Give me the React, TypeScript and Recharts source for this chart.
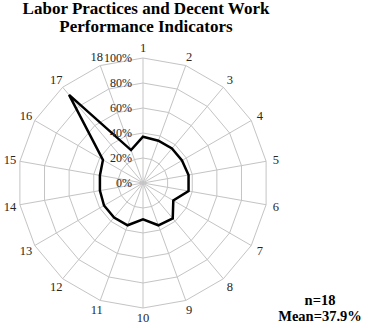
import React from "react";
import {
    RadarChart,
    Radar,
    PolarGrid,
    PolarAngleAxis,
    PolarRadiusAxis,
} from "recharts";

const indicators = [
    "1", "2", "3", "4", "5", "6", "7", "8", "9",
    "10", "11", "12", "13", "14", "15", "16", "17", "18",
];
const scores = [37, 36, 36, 36, 37, 37, 28, 37, 36, 29, 36, 36, 36, 35, 35, 37, 92, 28];
const radiusTicks = [0, 20, 40, 60, 80, 100];

const data = indicators.map((name, i) => ({ name, value: scores[i] }));

const CX = 143;
const CY = 183;
const RADIUS = 125;
const RADIAN = Math.PI / 180;
const SERIF = "'Liberation Serif', 'Times New Roman', Times, 'DejaVu Serif', serif";

const AngleTick = ({ payload }: any) => {
    const angle = payload.coordinate;
    const r = RADIUS + 10;
    const x = CX + r * Math.cos(-angle * RADIAN);
    const y = CY + r * Math.sin(-angle * RADIAN);
    return (
        <text
            x={x}
            y={y}
            dy="0.35em"
            textAnchor="middle"
            style={{ fontFamily: SERIF, fontSize: 12.5 }}
            fill="#262626"
        >
            {payload.value}
        </text>
    );
};

const RadiusTick = ({ x, y, payload }: any) => (
    <text
        x={x - 11}
        y={y}
        dy="0.35em"
        textAnchor="end"
        style={{ fontFamily: SERIF, fontSize: 12 }}
        fill="#262626"
    >
        {payload.value}%
    </text>
);

export default function App() {
    return (
        <div
            style={{
                position: "absolute",
                left: 0,
                top: 0,
                width: 368,
                height: 328,
                background: "#fff",
                fontFamily: SERIF,
            }}
        >
            <div
                style={{
                    position: "absolute",
                    left: 0,
                    top: 0,
                    width: 292,
                    textAlign: "center",
                    fontWeight: "bold",
                    fontSize: 17,
                    lineHeight: "17.5px",
                    color: "#000",
                    fontFamily: SERIF,
                }}
            >
                Labor Practices and Decent Work
                <br />
                Performance Indicators
            </div>
            <RadarChart
                width={368}
                height={328}
                data={data}
                cx={CX}
                cy={CY}
                outerRadius={RADIUS}
                margin={{ top: 0, right: 0, bottom: 0, left: 0 }}
            >
                <PolarGrid gridType="polygon" stroke="#c4c4c4" strokeWidth={1} />
                <PolarAngleAxis
                    dataKey="name"
                    tick={<AngleTick />}
                    tickLine={false}
                    axisLine={false}
                />
                <PolarRadiusAxis
                    angle={90}
                    domain={[0, 100]}
                    ticks={radiusTicks}
                    tickCount={6}
                    tick={<RadiusTick />}
                    axisLine={false}
                    tickLine={false}
                />
                <Radar
                    dataKey="value"
                    stroke="#000"
                    strokeWidth={2.5}
                    fill="none"
                    fillOpacity={0}
                    isAnimationActive={false}
                />
            </RadarChart>
            <div
                style={{
                    position: "absolute",
                    left: 272,
                    top: 292,
                    width: 96,
                    textAlign: "center",
                    fontWeight: "bold",
                    fontSize: 14.5,
                    lineHeight: "16px",
                    color: "#000",
                    fontFamily: SERIF,
                }}
            >
                n=18
                <br />
                Mean=37.9%
            </div>
        </div>
    );
}
